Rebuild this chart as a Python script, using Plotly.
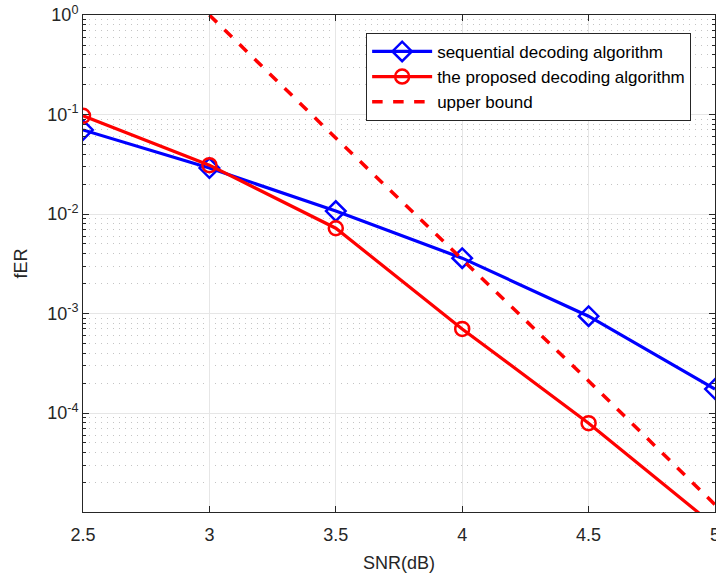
import plotly.graph_objects as go

snr = [2.5, 3.0, 3.5, 4.0, 4.5, 5.0]
fer_sequential = [0.070, 0.029, 0.0107, 0.0036, 9.4e-4, 1.74e-4]
fer_proposed = [0.097, 0.031, 0.0072, 7.0e-4, 7.9e-5, 7.3e-6]

snr_bound = [3.0, 3.5, 4.0, 4.5, 5.0]
fer_bound = [1.0, 0.058, 3.5e-3, 2.1e-4, 1.2e-5]

y_tick_vals = [1e-4, 1e-3, 1e-2, 1e-1, 1e0]
y_tick_text = ["10<sup>-4</sup>", "10<sup>-3</sup>", "10<sup>-2</sup>",
               "10<sup>-1</sup>", "10<sup>0</sup>"]
y_minor_vals = [m * 10.0 ** e for e in range(-5, 0) for m in range(2, 10)]

fig = go.Figure()
fig.add_trace(go.Scatter(
    x=snr, y=fer_sequential, mode="lines+markers",
    name="sequential decoding algorithm",
    line=dict(color="#0000ff", width=3.2),
    marker=dict(symbol="diamond-open", size=15, color="#0000ff",
                line=dict(width=2.5, color="#0000ff")),
))
fig.add_trace(go.Scatter(
    x=snr, y=fer_proposed, mode="lines+markers",
    name="the proposed decoding algorithm",
    line=dict(color="#ff0000", width=3.2),
    marker=dict(symbol="circle-open", size=14, color="#ff0000",
                line=dict(width=2.5, color="#ff0000")),
))
fig.add_trace(go.Scatter(
    x=snr_bound, y=fer_bound, mode="lines",
    name="upper bound",
    line=dict(color="#ff0000", width=3.5, dash="dash"),
))

fig.update_layout(
    width=716, height=575,
    margin=dict(l=83, r=1, t=15, b=63),
    paper_bgcolor="white", plot_bgcolor="white",
    font=dict(family="Liberation Sans, Arial, sans-serif", color="#262626", size=18),
    legend=dict(
        x=0.448, y=0.964, xanchor="left", yanchor="top",
        bgcolor="white", bordercolor="#262626", borderwidth=1,
        font=dict(size=17, color="black"), itemwidth=60,
        tracegroupgap=0,
    ),
)
fig.update_xaxes(
    range=[2.5, 5], tickvals=[2.5, 3, 3.5, 4, 4.5, 5],
    ticktext=["2.5", "3", "3.5", "4", "4.5", "5"],
    automargin=False, ticklabeloverflow="allow", ticklabelstandoff=6,
    showline=True, linecolor="#262626", linewidth=1, mirror="ticks",
    ticks="inside", ticklen=6, tickcolor="#262626",
    tickfont=dict(size=18),
    showgrid=True, gridcolor="#e6e6e6", gridwidth=1, zeroline=False,
    title=dict(text="SNR(dB)", standoff=12, font=dict(size=18)),
)
fig.update_yaxes(
    type="log", range=[-4.995, 0.0005],
    tickvals=y_tick_vals, ticktext=y_tick_text,
    automargin=False, ticklabeloverflow="allow",
    showline=True, linecolor="#262626", linewidth=1, mirror="ticks",
    ticks="inside", ticklen=6, tickcolor="#262626",
    tickfont=dict(size=18),
    showgrid=True, gridcolor="#e6e6e6", gridwidth=1, zeroline=False,
    minor=dict(tickvals=y_minor_vals, ticks="inside", ticklen=3,
               tickcolor="#262626", showgrid=True, gridcolor="#c4c4c4",
               griddash="1px,5px", gridwidth=1),
    title=dict(text="fER", standoff=14, font=dict(size=18)),
)

# drop the default 8px body margin so the 716x575 figure fills the window
fig.write_html("out.html", config={"displayModeBar": False},
               post_script="document.body.style.margin = '0';")
